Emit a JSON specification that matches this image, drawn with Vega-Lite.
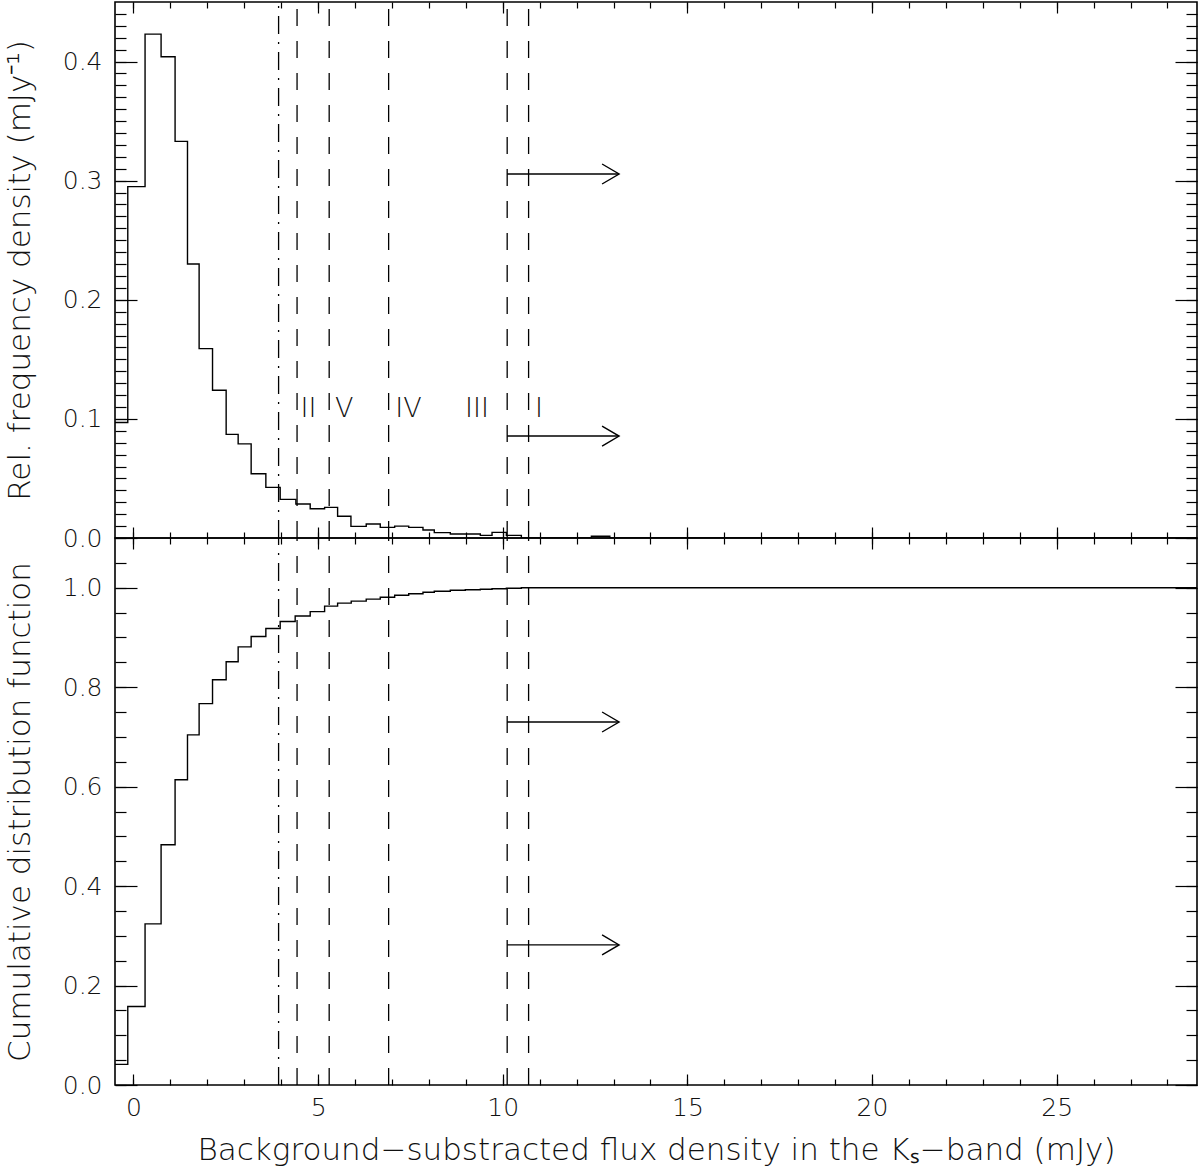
{
  "$schema": "https://vega.github.io/schema/vega-lite/v6.json",
  "padding": {"left": 3, "top": 0, "right": 4, "bottom": 0},
  "background": "white",
  "spacing": 0,
  "bounds": "flush",
  "config": {
    "view": {"stroke": "#000", "strokeWidth": 1.6},
    "axis": {
      "domain": false, "grid": false, "tickColor": "#000", "tickWidth": 1.2,
      "labelFont": "DejaVu Sans", "labelFontSize": 25, "labelFontWeight": 200, "labelColor": "#111",
      "titleFont": "DejaVu Sans", "titleFontSize": 31, "titleFontWeight": 200, "titleColor": "#111"
    },
    "text": {"font": "DejaVu Sans", "fontSize": 27, "fontWeight": 200}
  },
  "datasets": {
    "hist": [
      {"x": -0.5, "v": 0.097}, {"x": -0.154, "v": 0.295}, {"x": 0.314, "v": 0.423}, {"x": 0.748, "v": 0.404},
      {"x": 1.127, "v": 0.333}, {"x": 1.463, "v": 0.230}, {"x": 1.778, "v": 0.159}, {"x": 2.141, "v": 0.124},
      {"x": 2.510, "v": 0.087}, {"x": 2.835, "v": 0.079}, {"x": 3.187, "v": 0.054}, {"x": 3.585, "v": 0.0425},
      {"x": 3.973, "v": 0.0324}, {"x": 4.398, "v": 0.0285}, {"x": 4.786, "v": 0.0246}, {"x": 5.176, "v": 0.0257},
      {"x": 5.528, "v": 0.0182}, {"x": 5.889, "v": 0.0098}, {"x": 6.303, "v": 0.0117}, {"x": 6.683, "v": 0.0089},
      {"x": 7.073, "v": 0.0100}, {"x": 7.453, "v": 0.0089}, {"x": 7.840, "v": 0.0067}, {"x": 8.146, "v": 0.0045},
      {"x": 8.580, "v": 0.0034}, {"x": 8.986, "v": 0.0034}, {"x": 9.393, "v": 0.0022}, {"x": 9.710, "v": 0.0047},
      {"x": 10.098, "v": 0.0022}, {"x": 10.504, "v": 0.0}, {"x": 12.4, "v": 0.0015}, {"x": 12.9, "v": 0.0},
      {"x": 28.8, "v": 0.0}
    ],
    "cdf": [
      {"x": -0.5, "v": 0.0415}, {"x": -0.154, "v": 0.158}, {"x": 0.314, "v": 0.324}, {"x": 0.748, "v": 0.483},
      {"x": 1.127, "v": 0.614}, {"x": 1.463, "v": 0.704}, {"x": 1.778, "v": 0.767}, {"x": 2.141, "v": 0.815},
      {"x": 2.510, "v": 0.851}, {"x": 2.835, "v": 0.881}, {"x": 3.187, "v": 0.902}, {"x": 3.585, "v": 0.918},
      {"x": 3.973, "v": 0.932}, {"x": 4.379, "v": 0.943}, {"x": 4.786, "v": 0.952}, {"x": 5.176, "v": 0.963},
      {"x": 5.528, "v": 0.969}, {"x": 5.897, "v": 0.973}, {"x": 6.303, "v": 0.977}, {"x": 6.683, "v": 0.981},
      {"x": 7.073, "v": 0.985}, {"x": 7.453, "v": 0.988}, {"x": 7.840, "v": 0.991}, {"x": 8.146, "v": 0.993},
      {"x": 8.580, "v": 0.995}, {"x": 8.986, "v": 0.996}, {"x": 9.393, "v": 0.997}, {"x": 9.710, "v": 0.998},
      {"x": 10.098, "v": 0.999}, {"x": 10.504, "v": 1.0}, {"x": 28.8, "v": 1.0}
    ],
    "vlines": [
      {"x": 3.93, "style": "dashdot"}, {"x": 4.43, "style": "dash"}, {"x": 5.30, "style": "dash"},
      {"x": 6.91, "style": "dash"}, {"x": 10.12, "style": "dash"}, {"x": 10.70, "style": "dash"}
    ],
    "arrowsTop": [
      {"x0": 10.12, "x1": 13.15, "y": 0.3056}, {"x0": 10.12, "x1": 13.15, "y": 0.0856}
    ],
    "arrowsBottom": [
      {"x0": 10.12, "x1": 13.15, "y": 0.730}, {"x0": 10.12, "x1": 13.15, "y": 0.2817}
    ],
    "labels": [
      {"x": 4.74, "y": 0.1086, "t": "II"}, {"x": 5.71, "y": 0.1086, "t": "V"}, {"x": 7.45, "y": 0.1086, "t": "IV"},
      {"x": 9.30, "y": 0.1086, "t": "III"}, {"x": 10.98, "y": 0.1086, "t": "I"}
    ]
  },
  "vconcat": [
    {
      "width": 1082, "height": 536,
      "resolve": {"axis": {"x": "independent", "y": "independent"}},
      "layer": [
        {
          "data": {"name": "hist"},
          "mark": {"type": "line", "interpolate": "step-after", "color": "#000", "strokeWidth": 1.4, "clip": true},
          "encoding": {
            "x": {"field": "x", "type": "quantitative", "scale": {"domain": [-0.5, 28.8], "nice": false, "zero": false},
                  "axis": {"orient": "bottom", "values": [0, 5, 10, 15, 20, 25], "labels": false, "tickSize": -11, "title": null}},
            "y": {"field": "v", "type": "quantitative", "scale": {"domain": [0, 0.45], "nice": false, "zero": false},
                  "axis": {"orient": "left", "values": [0, 0.1, 0.2, 0.3, 0.4], "format": ".1f", "tickSize": -22, "labelPadding": 35,
                           "title": "Rel. frequency density (mJy⁻¹)", "titlePadding": 26}}
          }
        },
        {
          "data": {"name": "vlines"},
          "mark": {"type": "rule", "color": "#000", "strokeWidth": 1.3},
          "encoding": {
            "x": {"field": "x", "type": "quantitative", "scale": {"domain": [-0.5, 28.8], "nice": false, "zero": false},
                  "axis": {"orient": "top", "values": [0, 5, 10, 15, 20, 25], "labels": false, "tickSize": -11, "title": null}},
            "y": {"datum": 0, "type": "quantitative", "scale": {"domain": [0, 0.45], "nice": false, "zero": false},
                  "axis": {"orient": "right", "values": [0, 0.1, 0.2, 0.3, 0.4], "labels": false, "tickSize": -22, "title": null}},
            "y2": {"datum": 0.45},
            "strokeDash": {"field": "style", "type": "nominal", "scale": {"domain": ["dashdot", "dash"], "range": [[18, 8, 2, 8], [17, 15]]}, "legend": null}
          }
        },
        {
          "data": {"name": "arrowsTop"},
          "mark": {"type": "rule", "color": "#000", "strokeWidth": 1.4},
          "encoding": {
            "x": {"field": "x0", "type": "quantitative", "scale": {"domain": [-0.5, 28.8], "nice": false, "zero": false},
                  "axis": {"orient": "bottom", "values": [0,1,2,3,4,5,6,7,8,9,10,11,12,13,14,15,16,17,18,19,20,21,22,23,24,25,26,27,28], "labels": false, "tickSize": -6, "title": null}},
            "x2": {"field": "x1"},
            "y": {"field": "y", "type": "quantitative", "scale": {"domain": [0, 0.45], "nice": false, "zero": false},
                  "axis": {"orient": "left", "values": [0,0.01,0.02,0.03,0.04,0.05,0.06,0.07,0.08,0.09,0.1,0.11,0.12,0.13,0.14,0.15,0.16,0.17,0.18,0.19,0.2,0.21,0.22,0.23,0.24,0.25,0.26,0.27,0.28,0.29,0.3,0.31,0.32,0.33,0.34,0.35,0.36,0.37,0.38,0.39,0.4,0.41,0.42,0.43,0.44], "labels": false, "tickSize": -11, "title": null}}
          }
        },
        {
          "data": {"name": "arrowsTop"},
          "mark": {"type": "point", "shape": "M -1.7 -1 L 0 0 L -1.7 1", "filled": false, "size": 400, "color": "#000", "strokeWidth": 1.4, "opacity": 1},
          "encoding": {
            "x": {"field": "x1", "type": "quantitative", "scale": {"domain": [-0.5, 28.8], "nice": false, "zero": false},
                  "axis": {"orient": "top", "values": [0,1,2,3,4,5,6,7,8,9,10,11,12,13,14,15,16,17,18,19,20,21,22,23,24,25,26,27,28], "labels": false, "tickSize": -6, "title": null}},
            "y": {"field": "y", "type": "quantitative", "scale": {"domain": [0, 0.45], "nice": false, "zero": false},
                  "axis": {"orient": "right", "values": [0,0.01,0.02,0.03,0.04,0.05,0.06,0.07,0.08,0.09,0.1,0.11,0.12,0.13,0.14,0.15,0.16,0.17,0.18,0.19,0.2,0.21,0.22,0.23,0.24,0.25,0.26,0.27,0.28,0.29,0.3,0.31,0.32,0.33,0.34,0.35,0.36,0.37,0.38,0.39,0.4,0.41,0.42,0.43,0.44], "labels": false, "tickSize": -11, "title": null}}
          }
        },
        {
          "data": {"name": "labels"},
          "mark": {"type": "text", "color": "#111", "baseline": "middle", "align": "center"},
          "encoding": {
            "x": {"field": "x", "type": "quantitative", "scale": {"domain": [-0.5, 28.8], "nice": false, "zero": false}, "axis": null},
            "y": {"field": "y", "type": "quantitative", "scale": {"domain": [0, 0.45], "nice": false, "zero": false}, "axis": null},
            "text": {"field": "t"}
          }
        }
      ]
    },
    {
      "width": 1082, "height": 547,
      "resolve": {"axis": {"x": "independent", "y": "independent"}},
      "layer": [
        {
          "data": {"name": "cdf"},
          "mark": {"type": "line", "interpolate": "step-after", "color": "#000", "strokeWidth": 1.4, "clip": true},
          "encoding": {
            "x": {"field": "x", "type": "quantitative", "scale": {"domain": [-0.5, 28.8], "nice": false, "zero": false},
                  "axis": {"orient": "bottom", "values": [0, 5, 10, 15, 20, 25], "tickSize": -11, "labelPadding": 21,
                           "title": "Background−substracted flux density in the Kₛ−band (mJy)", "titlePadding": 15}},
            "y": {"field": "v", "type": "quantitative", "scale": {"domain": [0, 1.1], "nice": false, "zero": false},
                  "axis": {"orient": "left", "values": [0, 0.2, 0.4, 0.6, 0.8, 1.0], "format": ".1f", "tickSize": -22, "labelPadding": 35,
                           "title": "Cumulative distribution function", "titlePadding": 26}}
          }
        },
        {
          "data": {"name": "vlines"},
          "mark": {"type": "rule", "color": "#000", "strokeWidth": 1.3},
          "encoding": {
            "x": {"field": "x", "type": "quantitative", "scale": {"domain": [-0.5, 28.8], "nice": false, "zero": false},
                  "axis": {"orient": "top", "values": [0, 5, 10, 15, 20, 25], "labels": false, "tickSize": -11, "title": null}},
            "y": {"datum": 0, "type": "quantitative", "scale": {"domain": [0, 1.1], "nice": false, "zero": false},
                  "axis": {"orient": "right", "values": [0, 0.2, 0.4, 0.6, 0.8, 1.0], "labels": false, "tickSize": -22, "title": null}},
            "y2": {"datum": 1.1},
            "strokeDash": {"field": "style", "type": "nominal", "scale": {"domain": ["dashdot", "dash"], "range": [[18, 8, 2, 8], [17, 15]]}, "legend": null}
          }
        },
        {
          "data": {"name": "arrowsBottom"},
          "mark": {"type": "rule", "color": "#000", "strokeWidth": 1.4},
          "encoding": {
            "x": {"field": "x0", "type": "quantitative", "scale": {"domain": [-0.5, 28.8], "nice": false, "zero": false},
                  "axis": {"orient": "bottom", "values": [0,1,2,3,4,5,6,7,8,9,10,11,12,13,14,15,16,17,18,19,20,21,22,23,24,25,26,27,28], "labels": false, "tickSize": -6, "title": null}},
            "x2": {"field": "x1"},
            "y": {"field": "y", "type": "quantitative", "scale": {"domain": [0, 1.1], "nice": false, "zero": false},
                  "axis": {"orient": "left", "values": [0,0.05,0.1,0.15,0.2,0.25,0.3,0.35,0.4,0.45,0.5,0.55,0.6,0.65,0.7,0.75,0.8,0.85,0.9,0.95,1.0,1.05], "labels": false, "tickSize": -11, "title": null}}
          }
        },
        {
          "data": {"name": "arrowsBottom"},
          "mark": {"type": "point", "shape": "M -1.7 -1 L 0 0 L -1.7 1", "filled": false, "size": 400, "color": "#000", "strokeWidth": 1.4, "opacity": 1},
          "encoding": {
            "x": {"field": "x1", "type": "quantitative", "scale": {"domain": [-0.5, 28.8], "nice": false, "zero": false},
                  "axis": {"orient": "top", "values": [0,1,2,3,4,5,6,7,8,9,10,11,12,13,14,15,16,17,18,19,20,21,22,23,24,25,26,27,28], "labels": false, "tickSize": -6, "title": null}},
            "y": {"field": "y", "type": "quantitative", "scale": {"domain": [0, 1.1], "nice": false, "zero": false},
                  "axis": {"orient": "right", "values": [0,0.05,0.1,0.15,0.2,0.25,0.3,0.35,0.4,0.45,0.5,0.55,0.6,0.65,0.7,0.75,0.8,0.85,0.9,0.95,1.0,1.05], "labels": false, "tickSize": -11, "title": null}}
          }
        }
      ]
    }
  ]
}
